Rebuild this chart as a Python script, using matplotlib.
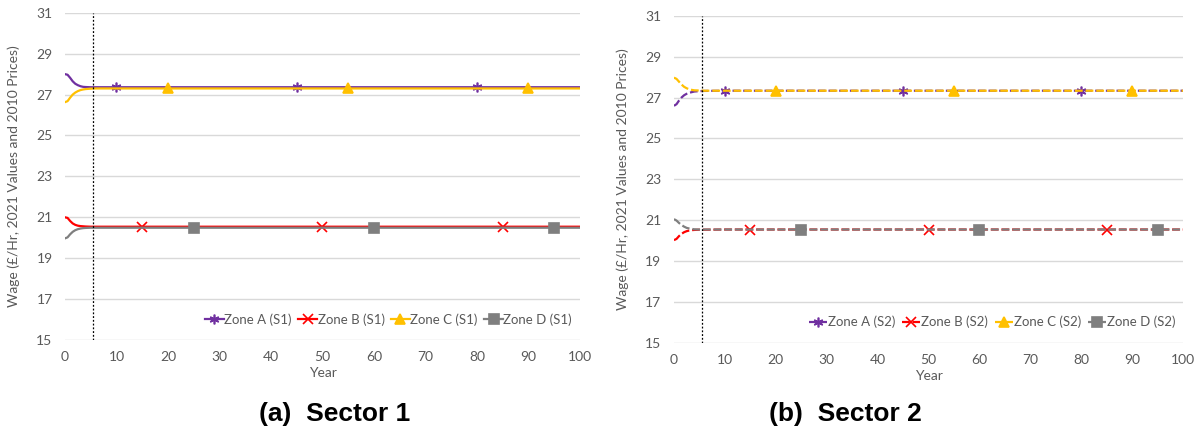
import matplotlib
matplotlib.use("Agg")
import matplotlib.pyplot as plt

plt.rcParams['font.family'] = ['Lato', 'DejaVu Sans']

# years: short-run transition, then long run every 5 years
years_transient = [0, 0.5, 1, 1.5, 2, 2.5, 3, 3.5, 4, 5, 6]
years_long = [10, 15, 20, 25, 30, 35, 40, 45, 50, 55, 60, 65, 70, 75, 80, 85, 90, 95, 100]
years = years_transient + years_long

# Sector 1
zone_a_s1 = [28.00, 27.97, 27.82, 27.65, 27.53, 27.46, 27.41, 27.38, 27.37, 27.36, 27.36]
zone_b_s1 = [21.00, 20.97, 20.82, 20.70, 20.63, 20.59, 20.57, 20.56, 20.55, 20.54, 20.54]
zone_c_s1 = [26.63, 26.68, 26.85, 27.00, 27.10, 27.17, 27.22, 27.25, 27.27, 27.29, 27.30]
zone_d_s1 = [19.97, 20.02, 20.17, 20.29, 20.37, 20.42, 20.45, 20.47, 20.48, 20.49, 20.49]
long_run_s1 = {'A': 27.36, 'B': 20.54, 'C': 27.30, 'D': 20.49}

# Sector 2
zone_a_s2 = [26.60, 26.68, 26.86, 27.01, 27.12, 27.19, 27.24, 27.27, 27.30, 27.32, 27.33]
zone_b_s2 = [20.02, 20.08, 20.22, 20.33, 20.41, 20.46, 20.49, 20.51, 20.52, 20.53, 20.53]
zone_c_s2 = [27.98, 27.92, 27.78, 27.64, 27.53, 27.46, 27.41, 27.38, 27.36, 27.35, 27.34]
zone_d_s2 = [21.05, 20.98, 20.86, 20.76, 20.68, 20.62, 20.59, 20.57, 20.55, 20.54, 20.54]
long_run_s2 = {'A': 27.34, 'B': 20.54, 'C': 27.34, 'D': 20.54}

marker_years = {'A': [10, 45, 80], 'B': [15, 50, 85], 'C': [20, 55, 90], 'D': [25, 60, 95]}
policy_year = 5.5

zones = ['A', 'B', 'C', 'D']
colors = {'A': '#7030A0', 'B': '#FF0000', 'C': '#FFC000', 'D': '#7F7F7F'}
markers = {'A': (6, 2, 0), 'B': 'x', 'C': '^', 'D': 's'}
msizes = {'A': 7, 'B': 6.5, 'C': 6.5, 'D': 6.5}

fig = plt.figure(figsize=(11.99, 4.41), dpi=100)
ax1 = fig.add_axes([0.0542, 0.229, 0.4295, 0.742])
ax2 = fig.add_axes([0.5621, 0.2231, 0.4246, 0.7406])


def draw_panel(ax, series, long_run, tag, dashed):
    for z in zones:
        vals = series[z] + [long_run[z]] * len(years_long)
        idx = [years.index(y) for y in marker_years[z]]
        ls = (0, (3.5, 1.3)) if dashed else '-'
        ax.plot(years, vals, color=colors[z], lw=1.6, linestyle=ls,
                marker=markers[z], markevery=idx, markersize=msizes[z],
                markeredgewidth=1.2, label=f'Zone {z} ({tag})')
    ax.axvline(policy_year, color='black', lw=0.9, linestyle=(0, (1.5, 1.5)))
    ax.set_xlim(0, 100)
    ax.set_ylim(15, 31)
    ax.set_xticks(range(0, 101, 10))
    ax.set_yticks(range(15, 32, 2))
    ax.grid(axis='y', color='#D9D9D9', lw=1)
    ax.set_axisbelow(True)
    for s in ax.spines.values():
        s.set_visible(False)
    ax.tick_params(length=0, labelsize=10, colors='#595959')
    ax.tick_params(axis='y', pad=9)
    ax.tick_params(axis='x', pad=8)
    ax.set_xlabel('Year', fontsize=10, color='#595959', labelpad=3)
    ax.set_ylabel('Wage (£/Hr, 2021 Values and 2010 Prices)', fontsize=10,
                  color='#595959', labelpad=12)
    leg = ax.legend(loc='lower right', bbox_to_anchor=(1.0, 0.02), ncol=4,
                    frameon=False, fontsize=9.5, handlelength=1.4,
                    handletextpad=0.05, columnspacing=0.5, borderaxespad=0.2)
    for t in leg.get_texts():
        t.set_color('#595959')


draw_panel(ax1, {'A': zone_a_s1, 'B': zone_b_s1, 'C': zone_c_s1, 'D': zone_d_s1},
           long_run_s1, 'S1', False)
draw_panel(ax2, {'A': zone_a_s2, 'B': zone_b_s2, 'C': zone_c_s2, 'D': zone_d_s2},
           long_run_s2, 'S2', True)

fig.text(0.279, 0.062, '(a)  Sector 1', ha='center', va='center',
         fontsize=19, fontweight='bold', family='Liberation Sans')
fig.text(0.705, 0.062, '(b)  Sector 2', ha='center', va='center',
         fontsize=19, fontweight='bold', family='Liberation Sans')

fig.savefig('out.png', dpi=100)
